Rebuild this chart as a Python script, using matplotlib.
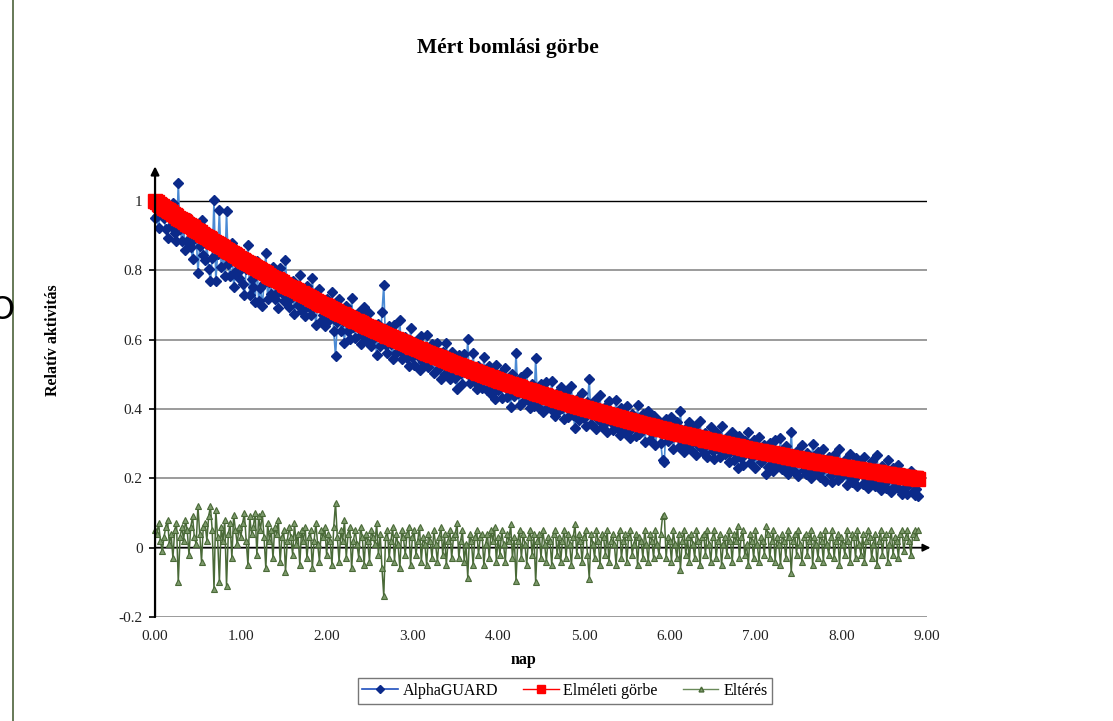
import numpy as np
import matplotlib.pyplot as plt
from matplotlib.lines import Line2D

# theoretical decay curve, half-hourly readings (relative activity)
elmeleti = [
    1.000, 0.996, 0.992, 0.989, 0.985, 0.981, 0.978, 0.974, 0.970, 0.967, 0.963, 0.959,
    0.956, 0.952, 0.949, 0.945, 0.941, 0.938, 0.934, 0.931, 0.927, 0.924, 0.920, 0.917,
    0.913, 0.910, 0.906, 0.903, 0.900, 0.896, 0.893, 0.890, 0.886, 0.883, 0.879, 0.876,
    0.873, 0.870, 0.866, 0.863, 0.860, 0.857, 0.853, 0.850, 0.847, 0.844, 0.841, 0.837,
    0.834, 0.831, 0.828, 0.825, 0.822, 0.819, 0.815, 0.812, 0.809, 0.806, 0.803, 0.800,
    0.797, 0.794, 0.791, 0.788, 0.785, 0.782, 0.779, 0.776, 0.774, 0.771, 0.768, 0.765,
    0.762, 0.759, 0.756, 0.753, 0.750, 0.748, 0.745, 0.742, 0.739, 0.736, 0.734, 0.731,
    0.728, 0.725, 0.723, 0.720, 0.717, 0.715, 0.712, 0.709, 0.706, 0.704, 0.701, 0.699,
    0.696, 0.693, 0.691, 0.688, 0.685, 0.683, 0.680, 0.678, 0.675, 0.673, 0.670, 0.668,
    0.665, 0.663, 0.660, 0.658, 0.655, 0.653, 0.650, 0.648, 0.645, 0.643, 0.640, 0.638,
    0.636, 0.633, 0.631, 0.628, 0.626, 0.624, 0.621, 0.619, 0.617, 0.614, 0.612, 0.610,
    0.607, 0.605, 0.603, 0.601, 0.598, 0.596, 0.594, 0.592, 0.589, 0.587, 0.585, 0.583,
    0.580, 0.578, 0.576, 0.574, 0.572, 0.570, 0.567, 0.565, 0.563, 0.561, 0.559, 0.557,
    0.555, 0.553, 0.551, 0.549, 0.546, 0.544, 0.542, 0.540, 0.538, 0.536, 0.534, 0.532,
    0.530, 0.528, 0.526, 0.524, 0.522, 0.520, 0.518, 0.516, 0.514, 0.512, 0.511, 0.509,
    0.507, 0.505, 0.503, 0.501, 0.499, 0.497, 0.495, 0.493, 0.492, 0.490, 0.488, 0.486,
    0.484, 0.482, 0.481, 0.479, 0.477, 0.475, 0.473, 0.472, 0.470, 0.468, 0.466, 0.465,
    0.463, 0.461, 0.459, 0.458, 0.456, 0.454, 0.452, 0.451, 0.449, 0.447, 0.446, 0.444,
    0.442, 0.441, 0.439, 0.437, 0.436, 0.434, 0.432, 0.431, 0.429, 0.427, 0.426, 0.424,
    0.423, 0.421, 0.419, 0.418, 0.416, 0.415, 0.413, 0.412, 0.410, 0.409, 0.407, 0.405,
    0.404, 0.402, 0.401, 0.399, 0.398, 0.396, 0.395, 0.393, 0.392, 0.390, 0.389, 0.388,
    0.386, 0.385, 0.383, 0.382, 0.380, 0.379, 0.377, 0.376, 0.375, 0.373, 0.372, 0.370,
    0.369, 0.368, 0.366, 0.365, 0.363, 0.362, 0.361, 0.359, 0.358, 0.357, 0.355, 0.354,
    0.353, 0.351, 0.350, 0.349, 0.347, 0.346, 0.345, 0.343, 0.342, 0.341, 0.340, 0.338,
    0.337, 0.336, 0.334, 0.333, 0.332, 0.331, 0.329, 0.328, 0.327, 0.326, 0.324, 0.323,
    0.322, 0.321, 0.320, 0.318, 0.317, 0.316, 0.315, 0.314, 0.312, 0.311, 0.310, 0.309,
    0.308, 0.307, 0.305, 0.304, 0.303, 0.302, 0.301, 0.300, 0.299, 0.297, 0.296, 0.295,
    0.294, 0.293, 0.292, 0.291, 0.290, 0.289, 0.288, 0.286, 0.285, 0.284, 0.283, 0.282,
    0.281, 0.280, 0.279, 0.278, 0.277, 0.276, 0.275, 0.274, 0.273, 0.272, 0.271, 0.270,
    0.269, 0.268, 0.267, 0.266, 0.265, 0.264, 0.263, 0.262, 0.261, 0.260, 0.259, 0.258,
    0.257, 0.256, 0.255, 0.254, 0.253, 0.252, 0.251, 0.250, 0.249, 0.248, 0.247, 0.246,
    0.245, 0.244, 0.244, 0.243, 0.242, 0.241, 0.240, 0.239, 0.238, 0.237, 0.236, 0.235,
    0.234, 0.234, 0.233, 0.232, 0.231, 0.230, 0.229, 0.228, 0.228, 0.227, 0.226, 0.225,
    0.224, 0.223, 0.222, 0.222, 0.221, 0.220, 0.219, 0.218, 0.217, 0.217, 0.216, 0.215,
    0.214, 0.213, 0.213, 0.212, 0.211, 0.210, 0.209, 0.209, 0.208, 0.207, 0.206, 0.205,
    0.205, 0.204, 0.203, 0.202, 0.202, 0.201, 0.200, 0.199,
]

elteres = [
    0.05, 0.04, 0.07, 0.02, -0.01, 0.03, 0.06, 0.08, 0.01, 0.04, -0.03, 0.05,
    0.07, -0.10, 0.03, 0.06, 0.02, 0.08, 0.05, -0.02, 0.06, 0.09, 0.03, 0.01,
    0.12, 0.04, -0.04, 0.06, 0.07, 0.02, 0.09, 0.12, 0.05, -0.12, 0.11, 0.03,
    -0.10, 0.06, 0.02, 0.08, -0.11, 0.04, 0.07, -0.03, 0.095, 0.05, 0.01, 0.06,
    0.03, 0.07, 0.10, 0.02, -0.05, 0.09, 0.04, 0.06, 0.10, -0.02, 0.09, 0.05,
    0.10, 0.03, -0.06, 0.07, 0.02, 0.05, -0.03, 0.06, 0.04, 0.08, -0.04, 0.03,
    0.05, -0.07, 0.02, 0.06, 0.03, -0.02, 0.07, 0.01, 0.04, -0.05, 0.05, 0.02,
    0.06, -0.03, 0.03, 0.05, -0.06, 0.02, 0.07, 0.01, -0.04, 0.05, 0.03, 0.06,
    -0.02, 0.04, 0.02, -0.05, 0.06, 0.13, 0.03, -0.04, 0.05, 0.02, 0.08, -0.03,
    0.04, 0.06, -0.06, 0.02, 0.05, 0.01, -0.03, 0.06, 0.03, -0.05, 0.04, 0.02,
    -0.04, 0.05, 0.03, 0.01, 0.07, -0.02, 0.04, -0.06, -0.14, 0.03, 0.05, -0.03,
    0.02, 0.06, -0.04, 0.04, 0.01, -0.06, 0.05, 0.03, -0.02, 0.04, 0.06, -0.05,
    0.03, 0.05, -0.02, 0.02, 0.06, -0.04, 0.03, 0.01, -0.05, 0.04, 0.02, -0.03,
    0.05, 0.01, -0.04, 0.03, 0.06, -0.02, 0.04, -0.05, 0.02, 0.05, -0.03, 0.03,
    0.04, 0.07, -0.03, 0.02, 0.05, -0.04, 0.01, -0.086, 0.04, 0.02, -0.05, 0.03,
    0.05, -0.02, 0.03, 0.04, -0.05, 0.01, 0.04, -0.03, 0.05, 0.02, 0.06, -0.04,
    0.03, -0.02, 0.05, 0.01, -0.04, 0.04, 0.02, 0.067, -0.03, 0.03, -0.096, 0.02,
    0.05, -0.03, 0.04, 0.01, -0.05, 0.03, 0.05, -0.02, 0.04, -0.10, 0.02, 0.04,
    -0.03, 0.05, 0.01, -0.04, 0.03, 0.02, -0.05, 0.04, 0.05, -0.02, 0.03, -0.04,
    0.02, 0.05, -0.03, 0.04, 0.01, -0.05, 0.03, 0.067, -0.02, 0.04, 0.02, -0.04,
    0.03, 0.05, -0.02, -0.089, 0.04, 0.01, -0.03, 0.05, 0.02, -0.05, 0.04, 0.03,
    -0.02, 0.05, -0.04, 0.02, 0.04, 0.01, -0.05, 0.03, 0.05, -0.03, 0.02, 0.04,
    -0.04, 0.03, 0.05, -0.02, 0.01, 0.04, -0.05, 0.03, 0.02, -0.03, 0.05, 0.01,
    -0.04, 0.04, 0.02, -0.03, 0.05, 0.01, -0.02, 0.04, 0.09, 0.095, -0.03, 0.03,
    0.02, -0.04, 0.05, 0.01, -0.03, 0.04, -0.064, 0.02, 0.05, -0.02, 0.03, -0.04,
    0.04, 0.01, -0.03, 0.05, 0.02, -0.05, 0.03, 0.04, -0.02, 0.05, 0.01, -0.04,
    0.03, 0.05, -0.03, 0.02, 0.04, -0.05, 0.01, 0.03, -0.02, 0.05, 0.02, -0.04,
    0.04, 0.02, 0.062, -0.03, 0.03, 0.05, -0.02, 0.01, -0.05, 0.04, 0.02, -0.03,
    0.05, 0.01, -0.04, 0.03, 0.02, -0.02, 0.062, 0.04, -0.03, 0.02, 0.05, -0.04,
    0.03, 0.01, -0.05, 0.04, 0.02, -0.03, 0.05, 0.03, -0.072, 0.02, 0.04, -0.02,
    0.05, 0.01, -0.04, 0.03, 0.04, -0.02, 0.02, 0.05, -0.05, 0.03, 0.01, -0.03,
    0.04, 0.02, -0.04, 0.05, 0.01, -0.02, 0.03, 0.05, -0.03, 0.02, 0.04, -0.05,
    0.03, 0.01, -0.02, 0.05, 0.02, -0.04, 0.04, 0.03, -0.03, 0.05, 0.01, -0.02,
    0.04, -0.04, 0.02, 0.05, 0.03, -0.03, 0.01, 0.04, -0.05, 0.02, 0.05, -0.02,
    0.03, 0.04, -0.04, 0.01, 0.05, -0.02, 0.03, 0.02, -0.03, 0.04, 0.05, -0.01,
    0.03, 0.05, 0.02, -0.02, 0.04, 0.05, 0.03, 0.05,
]

nap = np.arange(len(elmeleti)) / 48.0
alphaguard = np.array(elmeleti) - np.array(elteres)

xticks = [0, 1, 2, 3, 4, 5, 6, 7, 8, 9]
xtick_labels = ["0.00", "1.00", "2.00", "3.00", "4.00", "5.00", "6.00", "7.00", "8.00", "9.00"]
yticks = [-0.2, 0, 0.2, 0.4, 0.6, 0.8, 1]
ytick_labels = ["-0.2", "0", "0.2", "0.4", "0.6", "0.8", "1"]

plt.rcParams['font.family'] = ['Liberation Serif', 'DejaVu Serif']

fig = plt.figure(figsize=(11.13, 7.21), dpi=100)
ax = fig.add_axes([0.1393, 0.1442, 0.6936, 0.6251])

# gridlines
for y in [-0.2, 0.2, 0.4, 0.6, 0.8]:
    ax.axhline(y, color='#8a8a8a', lw=1.2, zorder=1)
ax.axhline(1, color='black', lw=1, zorder=1)

# axes with arrows
ax.annotate('', xy=(9.04, 0), xytext=(0, 0),
            arrowprops=dict(arrowstyle='-|>', color='black', lw=1.3,
                            mutation_scale=11, shrinkA=0, shrinkB=0),
            annotation_clip=False, zorder=2)
ax.annotate('', xy=(0, 1.1), xytext=(0, -0.2),
            arrowprops=dict(arrowstyle='-|>', color='black', lw=1.6,
                            mutation_scale=12, shrinkA=0, shrinkB=0),
            annotation_clip=False, zorder=6)

ax.plot(nap, alphaguard, color='#4a8ad4', lw=1.2, marker='D', ms=4.8,
        mfc='#0b2a8a', mec='#0b2a8a', zorder=3, clip_on=False)
ax.plot(nap, elmeleti, color='red', lw=1, marker='s', ms=10,
        mfc='red', mec='red', zorder=4, clip_on=False)
ax.plot(nap, elteres, color='#4a6a38', lw=1.1, marker='^', ms=4.2,
        mfc='#7d9a6c', mec='#4a6a38', mew=0.8, zorder=3, clip_on=False)

ax.set_xlim(0, 9)
ax.set_ylim(-0.2, 1.1)
ax.set_xticks(xticks, xtick_labels)
ax.set_yticks(yticks, ytick_labels)
ax.tick_params(axis='y', length=4, width=1.2, color='black', pad=5, labelsize=11, labelcolor='#222222')
ax.tick_params(axis='x', length=0, pad=9, labelsize=11, labelcolor='#222222')
for s in ['top', 'right', 'left', 'bottom']:
    ax.spines[s].set_visible(False)

fig.text(0.4565, 0.934, "Mért bomlási görbe", ha='center', va='center',
         fontsize=15.5, fontweight='bold')
fig.text(0.0476, 0.5284, "Relatív aktivitás", rotation=90, ha='center', va='center',
         fontsize=11.5, fontweight='bold')
fig.text(0.470, 0.0846, "nap", ha='center', va='center', fontsize=11.5, fontweight='bold')

handles = [
    Line2D([], [], color='#1f4fbf', lw=1.2, marker='D', ms=4, mfc='#0b2a8a', mec='#0b2a8a'),
    Line2D([], [], color='red', lw=1, marker='s', ms=6, mfc='red', mec='red'),
    Line2D([], [], color='#6a8a5a', lw=1, marker='^', ms=3.5, mfc='#7d9a6c', mec='#4a6a38'),
]
leg = fig.legend(handles, ["AlphaGUARD", "Elméleti görbe", "Eltérés"],
                 loc='center', bbox_to_anchor=(0.5076, 0.0416), ncol=3,
                 fancybox=False, edgecolor='#555555', fontsize=11.5,
                 handlelength=2.2, columnspacing=1.6, borderpad=0.3, handletextpad=0.3)
leg.get_frame().set_linewidth(1)

# page border bits around the chart
fig.add_artist(Line2D([13 / 1113, 13 / 1113], [0, 1], color='#5a6e4a', lw=1.3))
fig.text(-0.0099, 0.570, "O", fontsize=23, family='DejaVu Sans', ha='left', va='center')

fig.savefig("out.png", dpi=100)
